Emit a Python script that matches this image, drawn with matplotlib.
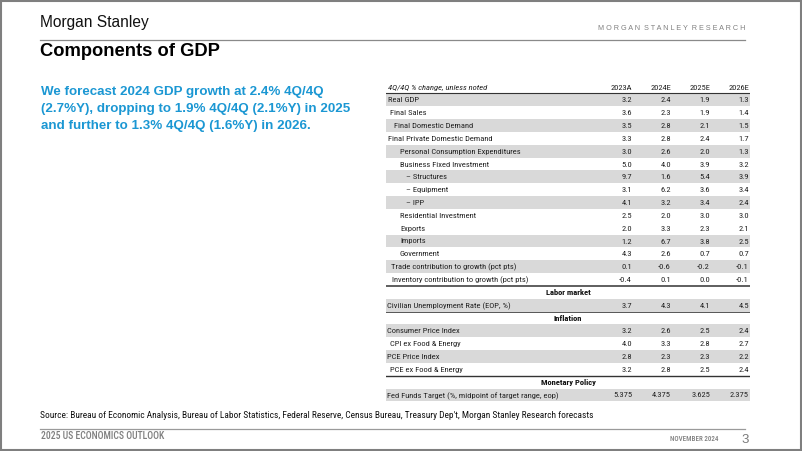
import matplotlib
matplotlib.use("Agg")
import matplotlib.pyplot as plt
from matplotlib import font_manager
from matplotlib.patches import Rectangle

# ---------------- data ----------------
col_headers = ["2023A", "2024E", "2025E", "2026E"]
row_labels = [
    "Real GDP", "Final Sales", "Final Domestic Demand", "Final Private Domestic Demand",
    "Personal Consumption Expenditures", "Business Fixed Investment",
    "\u2013 Structures", "\u2013 Equipment", "\u2013 IPP",
    "Residential Investment", "Exports", "Imports", "Government",
    "Trade contribution to growth (pct pts)", "Inventory contribution to growth (pct pts)",
    "Labor market", "Civilian Unemployment Rate (EOP, %)",
    "Inflation", "Consumer Price Index", "CPI ex Food & Energy", "PCE Price Index",
    "PCE ex Food & Energy",
    "Monetary Policy", "Fed Funds Target (%, midpoint of target range, eop)",
]
v2023 = [3.2, 3.6, 3.5, 3.3, 3.0, 5.0, 9.7, 3.1, 4.1, 2.5, 2.0, 1.2, 4.3, 0.1, -0.4,
         None, 3.7, None, 3.2, 4.0, 2.8, 3.2, None, 5.375]
v2024 = [2.4, 2.3, 2.8, 2.8, 2.6, 4.0, 1.6, 6.2, 3.2, 2.0, 3.3, 6.7, 2.6, -0.6, 0.1,
         None, 4.3, None, 2.6, 3.3, 2.3, 2.8, None, 4.375]
v2025 = [1.9, 1.9, 2.1, 2.4, 2.0, 3.9, 5.4, 3.6, 3.4, 3.0, 2.3, 3.8, 0.7, -0.2, 0.0,
         None, 4.1, None, 2.5, 2.8, 2.3, 2.5, None, 3.625]
v2026 = [1.3, 1.4, 1.5, 1.7, 1.3, 3.2, 3.9, 3.4, 2.4, 3.0, 2.1, 2.5, 0.7, -0.1, -0.1,
         None, 4.5, None, 2.4, 2.7, 2.2, 2.4, None, 2.375]
decimals = [1] * 23 + [3]

# ---------------- style ----------------
indent = [2, 4, 8, 2, 14, 14, 20, 20, 20, 14, 14, 14, 14, 5, 6,
          None, 1, None, 1, 4, 1, 4, None, 1]
shaded = [1, 0, 1, 0, 1, 0, 1, 0, 1, 0, 0, 1, 0, 1, 0,
          0, 1, 0, 1, 0, 1, 0, 0, 1]

avail = {f.name for f in font_manager.fontManager.ttflist}
TF = "Roboto"
for cand in ["Roboto Condensed", "Liberation Sans Narrow", "Arial Narrow"]:
    if cand in avail:
        TF = cand
        break

BLUE = "#1b97d3"
TXT = "#222222"

W, H = 802, 451
fig = plt.figure(figsize=(W / 100, H / 100), dpi=100)
renderer = fig.canvas.get_renderer()


def size_for_width(text, family, target_px, weight="normal"):
    t = fig.text(0, 0, text, fontsize=10, family=family, weight=weight)
    w = t.get_window_extent(renderer=renderer).width
    t.remove()
    return 10 * target_px / w


TS = size_for_width("Personal Consumption Expenditures", TF, 121)

bg = fig.add_axes([0, 0, 1, 1])
bg.set_xlim(0, W)
bg.set_ylim(H, 0)
bg.axis("off")

# frame
bg.add_patch(Rectangle((0.8, 0.8), W - 1.6, H - 1.6, fill=False, ec="#7f7f7f", lw=1.5))

# header
bg.text(40, 22, "Morgan Stanley", fontsize=11.2, family="Liberation Sans",
        color="#111111", va="center", ha="left")
bg.text(745, 29, "  ".join(" ".join(w) for w in "MORGAN STANLEY RESEARCH".split()),
        fontsize=5.2, family="Liberation Sans", color="#808080", va="center", ha="right")
bg.plot([40, 745], [39.5, 39.5], color="#8a8a8a", lw=0.9)
bg.text(40, 51, "Components of GDP", fontsize=13.2, weight="bold",
        family="Liberation Sans", color="#000000", va="center", ha="left")

bg.text(41, 86, "We forecast 2024 GDP growth at 2.4% 4Q/4Q\n"
        "(2.7%Y), dropping to 1.9% 4Q/4Q (2.1%Y) in 2025\n"
        "and further to 1.3% 4Q/4Q (1.6%Y) in 2026.",
        fontsize=9.6, weight="bold", family="Liberation Sans", color=BLUE,
        va="top", ha="left", linespacing=1.58)

# footer
src = ("Source: Bureau of Economic Analysis, Bureau of Labor Statistics, Federal Reserve, "
       "Census Bureau, Treasury Dep't, Morgan Stanley Research forecasts")
bg.text(40, 416, src, fontsize=size_for_width(src, TF, 548), family=TF,
        color="#111111", va="center", ha="left")
bg.plot([40, 745], [428.5, 428.5], color="#9a9a9a", lw=0.9)
f1 = "2025 US ECONOMICS OUTLOOK"
bg.text(41, 436, f1, fontsize=size_for_width(f1, TF, 124, "medium"), family=TF,
        weight="medium", color="#7f7f7f", va="center", ha="left")
f2 = "NOVEMBER 2024"
bg.text(718, 439, f2, fontsize=size_for_width(f2, TF, 48, "medium"), family=TF,
        weight="medium", color="#7f7f7f", va="center", ha="right")
bg.text(745, 440, "3", fontsize=9.5, family="Liberation Sans",
        color="#7a7a7a", va="center", ha="center")

# ---------------- table ----------------
x0, x1 = 386, 750
ytop, ybot = 80.6, 401.4
nrows = len(row_labels) + 1
ax = fig.add_axes([x0 / W, 1 - ybot / H, (x1 - x0) / W, (ybot - ytop) / H])
ax.set_xlim(x0, x1)
ax.set_ylim(nrows, 0)
ax.axis("off")

col_right = [632, 671, 710, 749]
series = [v2023, v2024, v2025, v2026]

for i, s in enumerate(shaded):
    if s:
        ax.barh(i + 1.5, x1 - x0, left=x0, height=1.0, color="#d9d9d9", lw=0)

ax.text(x0 + 2, 0.5, "4Q/4Q % change, unless noted", fontsize=TS, style="italic",
        family=TF, color=TXT, va="center_baseline", ha="left")
for cx, h in zip(col_right, col_headers):
    ax.text(cx, 0.5, h, fontsize=TS, family=TF, color=TXT,
            va="center_baseline", ha="right")

for i, lab in enumerate(row_labels):
    y = i + 1.5
    if indent[i] is None:
        ax.text((x0 + x1) / 2, y, lab, fontsize=TS, weight="bold", family=TF,
                color="#111111", va="center_baseline", ha="center")
        continue
    ax.text(x0 + indent[i], y, lab, fontsize=TS, family=TF, color=TXT,
            va="center_baseline", ha="left")
    for cx, ser in zip(col_right, series):
        v = ser[i]
        if v is None:
            continue
        ax.text(cx, y, f"{v:.{decimals[i]}f}", fontsize=TS, family=TF, color=TXT,
                va="center_baseline", ha="right")

ax.plot([x0, x1], [1.0, 1.0], color="#333333", lw=0.8)
ax.plot([x0, x1], [16.0, 16.0], color="#333333", lw=1.1)
ax.plot([x0, x1], [18.0, 18.0], color="#555555", lw=0.7)
ax.plot([x0, x1], [23.0, 23.0], color="#333333", lw=1.0)

fig.savefig("out.png", dpi=100)
